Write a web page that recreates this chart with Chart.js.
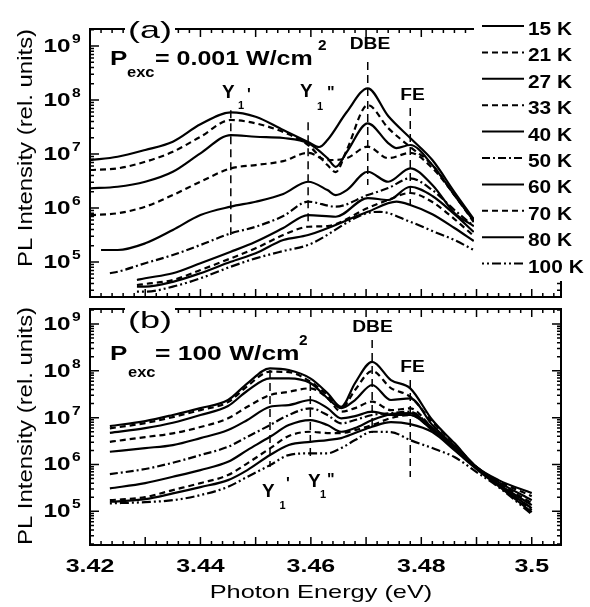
<!DOCTYPE html>
<html>
<head>
<meta charset="utf-8">
<title>PL spectra vs temperature</title>
<script src="https://cdn.jsdelivr.net/npm/chart.js@4.4.0/dist/chart.umd.min.js"></script>
<style>
  body { margin: 0; background: #fff; }
  #wrap { position: relative; width: 590px; height: 607px; }
  canvas { position: absolute; left: 0; top: 0; }
</style>
</head>
<body>
<div id="wrap">
  <canvas id="chartA" width="590" height="607"></canvas>
  <canvas id="chartB" width="590" height="607"></canvas>
</div>
<script>
// Temperatures (legend order)
const temps = ['15 K', '21 K', '27 K', '33 K', '40 K', '50 K', '60 K', '70 K', '80 K', '100 K'];

// Panel (a): P = 0.001 W/cm2
const energyA = [3.420, 3.422, 3.4236, 3.425, 3.4285, 3.430, 3.435, 3.440, 3.4455, 3.450, 3.455, 3.4595,
                 3.4615, 3.463, 3.4645, 3.4665, 3.4703, 3.4725, 3.474, 3.4755, 3.478, 3.482, 3.486, 3.4895];
const a15  = [7.74e6, null, null, 8.9e6, null, 1.19e7, 1.69e7, 3.55e7, 5.9e7, 4.9e7, 2.78e7, 1.67e7, 1.35e7, 1.82e7, null, 6.0e7, 1.65e8, null, 5.06e7, null, 1.98e7, 7.74e6, 1.98e6, 6.25e5];
const a21  = [5.06e6, null, null, 5.43e6, null, 7.2e6, 1.1e7, 2.09e7, 4.27e7, 3.7e7, 2.55e7, 1.47e7, null, 6.25e6, 4.64e6, 1.19e7, 8.07e7, null, 3.03e7, null, 1.35e7, 6.25e6, 1.74e6, 6.0e5];
const a27  = [2.32e6, null, null, 2.48e6, null, 3.07e6, 4.7e6, 1.03e7, 2.25e7, 2.09e7, 1.98e7, 1.6e7, null, 8.4e6, 5.8e6, 1.09e7, 3.7e7, null, 1.6e7, 1.29e7, 1.47e7, 6.25e6, 1.74e6, 5.74e5];
const a33  = [7.4e5, null, null, 8.0e5, null, 1.06e6, 1.74e6, 3.07e6, 5.43e6, 6.25e6, 7.4e6, 1.05e7, null, 7.74e6, null, 8.4e6, 1.37e7, null, 8.4e6, null, 1.05e7, 5.5e6, 1.74e6, 5.5e5];
const a40  = [null, 1.67e5, null, 1.67e5, null, 2.22e5, 3.92e5, 7.4e5, 1.06e6, 1.31e6, 1.82e6, 3.07e6, null, 2.15e6, 1.74e6, 2.15e6, 4.7e6, null, 3.07e6, null, 5.43e6, 2.67e6, 8.1e5, 4.64e5];
const a50  = [null, null, 6.2e4, 6.6e4, null, 9.5e4, 1.35e5, 2.07e5, 3.4e5, 4.5e5, 7.1e5, 1.31e6, null, null, 1.06e6, null, 1.74e6, null, 2.34e6, null, 3.55e6, 2.15e6, 9.2e5, 4.64e5];
const a60  = [null, null, null, null, 4.64e4, 5.0e4, 6.2e4, 9.5e4, 1.55e5, 2.38e5, 4.27e5, 7.4e5, null, null, 6.9e5, null, 1.53e6, null, 1.41e6, null, 2.48e6, 1.67e6, 7.7e5, 3.6e5];
const a70  = [null, null, null, null, 3.75e4, 3.92e4, 4.64e4, 7.1e4, 1.17e5, 1.8e5, 3.16e5, 4.5e5, null, 4.64e5, null, null, 1.0e6, null, 1.41e6, null, 1.9e6, 1.29e6, 6.25e5, 3.03e5];
const a80  = [null, null, null, null, 3.5e4, 3.5e4, 4.3e4, 6.2e4, 1.01e5, 1.45e5, 2.55e5, 3.16e5, null, null, null, null, 8.5e5, null, null, 1.31e6, 1.14e6, 7.7e5, 4.27e5, 2.45e5];
const a100 = [null, null, null, null, 2.82e4, 2.82e4, 3.5e4, 5.0e4, 8.2e4, 1.17e5, 1.6e5, 2.07e5, null, null, null, null, 8.1e5, 8.5e5, null, null, 5.57e5, 3.75e5, 2.55e5, 1.67e5];

// Panel (b): P = 100 W/cm2
const energyB = [3.4236, 3.430, 3.435, 3.440, 3.445, 3.4485, 3.4526, 3.456, 3.4599, 3.463, 3.4655, 3.468,
                 3.4711, 3.4745, 3.478, 3.482, 3.486, 3.490, 3.494, 3.500];
const b15  = [6.62e6, 8.45e6, 1.14e7, 1.6e7, 2.38e7, 5.4e7, 1.13e8, 1.04e8, 6.9e7, 3.36e7, 1.71e7, 5.48e7, 1.56e8, 6.36e7, 4.23e7, 8.9e6, 2.86e6, 8.9e5, 4.64e5, 2.45e5];
const b21  = [5.9e6, 7.67e6, 1.03e7, 1.45e7, 2.15e7, 4.73e7, 9.6e7, 9.4e7, 5.85e7, 3.04e7, 1.6e7, 3.89e7, 9.9e7, 4.29e7, 2.8e7, 8.05e6, 2.73e6, 8.8e5, 4.42e5, 2.11e5];
const b27  = [4.75e6, 6.0e6, 7.8e6, 1.14e7, 1.77e7, 3.76e7, 6.9e7, 6.9e7, 5.48e7, 2.62e7, 1.6e7, 2.38e7, 4.98e7, 2.38e7, 2.58e7, 6.95e6, 2.47e6, 8.8e5, 4.2e5, 1.73e5];
const b33  = [3.05e6, 3.85e6, 4.62e6, 6.3e6, 9.7e6, 1.71e7, 3.04e7, 3.57e7, 4.23e7, 2.62e7, 1.34e7, 1.6e7, 2.19e7, 1.45e7, 1.58e7, 6.0e6, 2.35e6, 8.8e5, 4.0e5, 1.5e5];
const b40  = [1.87e6, 2.24e6, 2.6e6, 3.66e6, 5.43e6, 8.9e6, 1.71e7, 1.86e7, 2.38e7, 1.6e7, 9.7e6, 1.08e7, 1.34e7, 1.14e7, 1.14e7, 5.43e6, 2.24e6, 8.4e5, 3.81e5, 1.36e5];
const b50  = [6.24e5, 8.0e5, 1.09e6, 1.59e6, 2.39e6, 3.9e6, 6.95e6, 1.14e7, 1.58e7, 1.14e7, 7.55e6, 8.9e6, 1.14e7, 1.25e7, 1.34e7, 6.0e6, 2.24e6, 8.4e5, 3.63e5, 1.17e5];
const b60  = [3.08e5, 4.0e5, 5.46e5, 7.6e5, 1.14e6, 2.03e6, 3.9e6, 6.95e6, 8.9e6, 6.95e6, 5.0e6, 6.0e6, 8.9e6, 1.19e7, 1.25e7, 6.0e6, 2.24e6, 8.4e5, 3.63e5, 1.17e5];
const b70  = [1.73e5, 2.01e5, 2.84e5, 4.0e5, 5.94e5, 1.06e6, 2.21e6, 4.05e6, 5.0e6, 4.69e6, 4.69e6, 5.43e6, 6.95e6, 9.8e6, 1.14e7, 5.43e6, 2.13e6, 8.4e5, 3.63e5, 1.06e5];
const b80  = [1.6e5, 1.82e5, 2.41e5, 3.29e5, 4.64e5, 7.6e5, 1.59e6, 2.6e6, 3.05e6, 3.32e6, 3.66e6, 4.69e6, 6.4e6, 8.05e6, 7.3e6, 4.92e6, 2.03e6, 8.0e5, 3.45e5, 9.6e4];
const b100 = [1.48e5, 1.57e5, 1.73e5, 2.22e5, 3.34e5, 5.46e5, 9.7e5, 1.59e6, 1.73e6, 1.73e6, 2.24e6, 3.32e6, 5.0e6, 4.92e6, 3.32e6, 2.24e6, 1.44e6, 6.9e5, 3.29e5, 8.7e4];

// Axis tick labels
const xTickValues = [3.42, 3.44, 3.46, 3.48, 3.50];
const xTickLabels = ['3.42', '3.44', '3.46', '3.48', '3.5'];
const yExponents = [5, 6, 7, 8, 9];

// Peak markers: [energy, top intensity, bottom intensity]
const markersA = [[3.4455, 6.5e7, 3.16e5], [3.4595, 3.9e7, 4.8e5], [3.4703, 5.06e8, 2.67e6], [3.478, 7.1e7, 1.14e6]];
const markersB = [[3.4526, 1.04e8, 8.8e5], [3.4599, 5.5e7, 1.44e6], [3.4711, 4.55e8, 4.7e6], [3.478, 6.4e7, 5.4e5]];

// Line styles per temperature
const lineDashes = [[], [6, 4], [], [6, 4], [], [8, 3, 2, 3], [], [6, 4], [], [2, 3, 2, 3, 9, 3]];

const FONT = '"Liberation Sans", Arial, Helvetica, sans-serif';

function putText(ctx, str, x, y, size, weight, sx, align) {
    ctx.save();
    ctx.font = `${weight} ${size}px ${FONT}`;
    ctx.fillStyle = '#000';
    ctx.textAlign = align || 'left';
    ctx.textBaseline = 'alphabetic';
    ctx.translate(x, y);
    ctx.scale(sx || 1, 1);
    ctx.fillText(str, 0, 0);
    ctx.restore();
}

function putTitleY(ctx, str, x, y) {
    ctx.save();
    ctx.font = `normal 21px ${FONT}`;
    ctx.fillStyle = '#000';
    ctx.textAlign = 'center';
    ctx.textBaseline = 'alphabetic';
    ctx.translate(x, y);
    ctx.rotate(-Math.PI / 2);
    ctx.scale(1.14, 1);
    ctx.fillText(str, 0, 0);
    ctx.restore();
}

// Frame with inward ticks on all four sides
function drawFrame(chart) {
    const { ctx, chartArea: a } = chart;
    const x = chart.scales.x, y = chart.scales.y;
    ctx.save();
    ctx.strokeStyle = '#000';
    ctx.lineWidth = 2;
    ctx.strokeRect(a.left, a.top, a.right - a.left, a.bottom - a.top);
    ctx.lineWidth = 1.5;
    ctx.beginPath();
    for (let i = 0; i <= 42; i++) {
        const px = x.getPixelForValue(3.42 + i * 0.002);
        if (px > a.right) break;
        const len = i % 5 === 0 ? 8 : 4;
        ctx.moveTo(px, a.bottom); ctx.lineTo(px, a.bottom - len);
        ctx.moveTo(px, a.top); ctx.lineTo(px, a.top + len);
    }
    for (let d = 4; d <= 9; d++) {
        for (let m = 1; m <= 9; m++) {
            const v = m * Math.pow(10, d);
            if (v < y.min || v > y.max) continue;
            const py = y.getPixelForValue(v);
            const len = m === 1 ? 9 : 4;
            ctx.moveTo(a.left, py); ctx.lineTo(a.left + len, py);
            ctx.moveTo(a.right, py); ctx.lineTo(a.right - len, py);
        }
    }
    ctx.stroke();
    ctx.restore();
}

function drawYLabels(chart) {
    const { ctx } = chart;
    const y = chart.scales.y;
    yExponents.forEach(e => {
        const py = y.getPixelForValue(Math.pow(10, e));
        putText(ctx, '10', 70.5, py + 6, 18, 'bold', 1.35, 'right');
        putText(ctx, String(e), 72, py - 3, 13, 'bold', 1.2, 'left');
    });
}

function drawMarkers(chart, markers) {
    const { ctx } = chart;
    const x = chart.scales.x, y = chart.scales.y;
    ctx.save();
    ctx.strokeStyle = '#000';
    ctx.lineWidth = 1.5;
    ctx.setLineDash([8, 5]);
    markers.forEach(([e, top, bottom]) => {
        const px = x.getPixelForValue(e);
        ctx.beginPath();
        ctx.moveTo(px, y.getPixelForValue(top));
        ctx.lineTo(px, y.getPixelForValue(bottom));
        ctx.stroke();
    });
    ctx.restore();
}

function whiteBox(ctx, x, y, w, h) {
    ctx.save();
    ctx.fillStyle = '#fff';
    ctx.fillRect(x, y, w, h);
    ctx.restore();
}

// Panel (a) decorations: frame, labels, legend
function decorateA(chart) {
    const { ctx } = chart;
    drawFrame(chart);
    drawMarkers(chart, markersA);
    drawYLabels(chart);

    // legend area hides the right part of the frame
    whiteBox(ctx, 474, 0, 116, 281);
    ctx.save();
    ctx.strokeStyle = '#000';
    ctx.lineWidth = 2;
    temps.forEach((t, i) => {
        const ly = 26 + i * 26.4;
        ctx.setLineDash(lineDashes[i]);
        ctx.beginPath();
        ctx.moveTo(482, ly);
        ctx.lineTo(524, ly);
        ctx.stroke();
        putText(ctx, t, 528, ly + 9, 18, 'bold', 1.16, 'left');
    });
    ctx.restore();

    whiteBox(ctx, 125, 14, 50, 30);
    putText(ctx, '(a)', 150, 38, 24, 'normal', 1.5, 'center');

    putText(ctx, 'P', 110, 64.5, 20, 'bold', 1.3);
    putText(ctx, 'exc', 127, 76.5, 15, 'bold', 1.1);
    putText(ctx, '= 0.001 W/cm', 155, 64.5, 20, 'bold', 1.25);
    putText(ctx, '2', 318, 50, 14, 'bold', 1.1);

    putText(ctx, 'DBE', 370, 48.5, 16, 'bold', 1.2, 'center');
    putText(ctx, 'FE', 412.5, 100, 16, 'bold', 1.2, 'center');
    putText(ctx, 'Y', 222, 98, 18, 'bold', 1.05);
    putText(ctx, '1', 238, 108.5, 11, 'bold');
    putText(ctx, "'", 247, 100, 16, 'bold');
    putText(ctx, 'Y', 300, 97, 18, 'bold', 1.05);
    putText(ctx, '1', 317, 110, 11, 'bold');
    putText(ctx, '"', 327, 98, 16, 'bold');

    putTitleY(ctx, 'PL Intensity (rel. units)', 32, 148);
}

// Panel (b) decorations
function decorateB(chart) {
    const { ctx } = chart;
    const x = chart.scales.x;
    drawFrame(chart);
    drawMarkers(chart, markersB);
    drawYLabels(chart);

    xTickValues.forEach((v, i) => {
        putText(ctx, xTickLabels[i], x.getPixelForValue(v), 572, 18.5, 'bold', 1.35, 'center');
    });
    putText(ctx, 'Photon Energy (eV)', 321, 598, 18.5, 'normal', 1.37, 'center');

    whiteBox(ctx, 125, 300, 50, 36);
    putText(ctx, '(b)', 150, 328, 24, 'normal', 1.5, 'center');

    putText(ctx, 'P', 110, 360, 20, 'bold', 1.3);
    putText(ctx, 'exc', 128, 377, 15, 'bold', 1.1);
    putText(ctx, '= 100 W/cm', 155, 360, 20, 'bold', 1.32);
    putText(ctx, '2', 299, 345, 14, 'bold', 1.1);

    putText(ctx, 'DBE', 372.5, 332, 16, 'bold', 1.2, 'center');
    putText(ctx, 'FE', 412.5, 372, 16, 'bold', 1.2, 'center');
    putText(ctx, 'Y', 262, 497, 18, 'bold', 1.05);
    putText(ctx, '1', 279.5, 509, 11, 'bold');
    putText(ctx, "'", 286, 489, 16, 'bold');
    putText(ctx, 'Y', 308, 487, 18, 'bold', 1.05);
    putText(ctx, '1', 320, 498, 11, 'bold');
    putText(ctx, '"', 327, 485, 16, 'bold');

    putTitleY(ctx, 'PL Intensity (rel. units)', 32, 426);
}

function makeChart(canvasId, energies, series, yMin, yMax, pad, decorate) {
    const datasets = series.map((vals, i) => ({
        label: temps[i],
        data: energies.map((e, j) => ({ x: e, y: vals[j] })),
        borderColor: '#000',
        borderWidth: 2.2,
        borderDash: lineDashes[i],
        borderJoinStyle: 'round',
        pointRadius: 0,
        fill: false,
        spanGaps: true,
        cubicInterpolationMode: 'monotone'
    }));

    return new Chart(document.getElementById(canvasId), {
        type: 'line',
        data: { datasets },
        options: {
            responsive: false,
            animation: false,
            devicePixelRatio: 1,
            layout: { padding: pad },
            plugins: {
                legend: { display: false },
                tooltip: { enabled: false }
            },
            scales: {
                x: { type: 'linear', display: false, min: 3.42, max: 3.5053 },
                y: { type: 'logarithmic', display: false, min: yMin, max: yMax }
            }
        },
        plugins: [{ id: 'panelDecor', afterDraw: decorate }]
    });
}

makeChart('chartA', energyA, [a15, a21, a27, a33, a40, a50, a60, a70, a80, a100],
    2.25e4, 2.07e9, { left: 90, right: 29, top: 29, bottom: 310 }, decorateA);
makeChart('chartB', energyB, [b15, b21, b27, b33, b40, b50, b60, b70, b80, b100],
    1.91e4, 2.09e9, { left: 90, right: 29, top: 309, bottom: 62 }, decorateB);
</script>
</body>
</html>
